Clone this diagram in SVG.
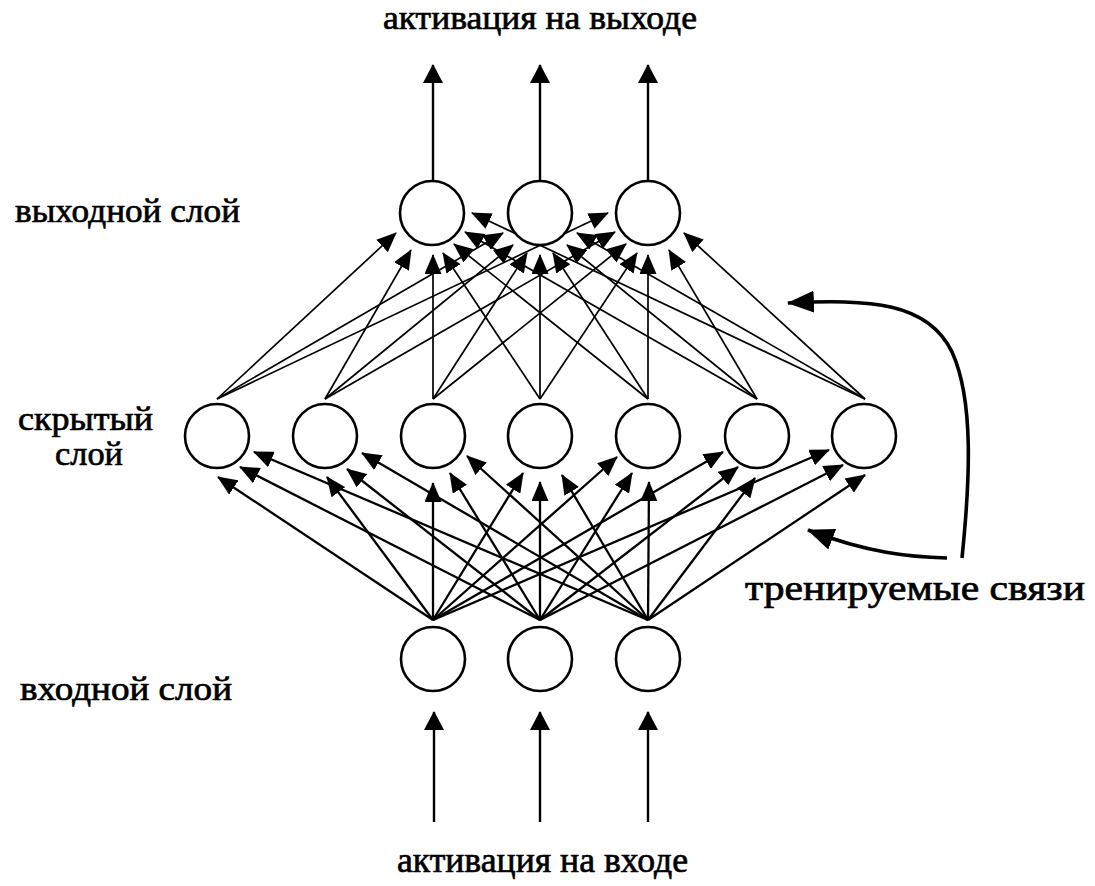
<svg xmlns="http://www.w3.org/2000/svg" width="1095" height="886" viewBox="0 0 1095 886">
<style>
.n{fill:#fff;stroke:#000;stroke-width:2.6}
.a{stroke:#000;stroke-width:2.3;fill:none}
.b{stroke:#000;stroke-width:1.7;fill:none}
.io{stroke:#000;stroke-width:2.4;fill:none}
.cv{stroke:#000;stroke-width:3.6;fill:none}
.t{font-family:"Liberation Serif","Times New Roman",serif;fill:#000;stroke:#000;stroke-width:0.7}
</style>
<defs>
<marker id="ah" viewBox="0 0 20 17" refX="19" refY="8.5" markerWidth="20" markerHeight="17" markerUnits="userSpaceOnUse" orient="auto"><path d="M0,0 L20,8.5 L0,17 z" fill="#000"/></marker>
<marker id="big" viewBox="0 0 19 20" refX="18" refY="10" markerWidth="19" markerHeight="20" markerUnits="userSpaceOnUse" orient="auto"><path d="M0,0 L19,10 L0,20 z" fill="#000"/></marker>
<marker id="cva" viewBox="0 0 27 22" refX="26" refY="11" markerWidth="27" markerHeight="22" markerUnits="userSpaceOnUse" orient="auto"><path d="M0,0 L27,11 L0,22 z" fill="#000"/></marker>
</defs>
<rect width="1095" height="886" fill="#fff"/>
<g id="connectors">
<g marker-end="url(#big)" class="io">
<line x1="434" y1="822" x2="434" y2="712"/>
<line x1="540" y1="822" x2="540" y2="712"/>
<line x1="648" y1="822" x2="648" y2="712"/>
<line x1="433" y1="180" x2="433" y2="65"/>
<line x1="540" y1="180" x2="540" y2="65"/>
<line x1="648" y1="180" x2="648" y2="65"/>
</g>
<g marker-end="url(#ah)" class="a">
<line x1="433" y1="620" x2="218" y2="477"/>
<line x1="540" y1="620" x2="240" y2="467"/>
<line x1="648" y1="620" x2="254" y2="452"/>
<line x1="433" y1="620" x2="327" y2="477"/>
<line x1="540" y1="620" x2="347" y2="469"/>
<line x1="648" y1="620" x2="362" y2="453"/>
<line x1="433" y1="620" x2="433" y2="483"/>
<line x1="540" y1="620" x2="450" y2="473"/>
<line x1="648" y1="620" x2="467" y2="456"/>
<line x1="433" y1="620" x2="523" y2="473"/>
<line x1="540" y1="620" x2="540" y2="482"/>
<line x1="648" y1="620" x2="562" y2="475"/>
<line x1="433" y1="620" x2="617" y2="457"/>
<line x1="540" y1="620" x2="632" y2="473"/>
<line x1="648" y1="620" x2="649" y2="482"/>
<line x1="433" y1="620" x2="723" y2="452"/>
<line x1="540" y1="620" x2="738" y2="467"/>
<line x1="648" y1="620" x2="755" y2="478"/>
<line x1="433" y1="620" x2="829" y2="450"/>
<line x1="540" y1="620" x2="843" y2="465"/>
<line x1="648" y1="620" x2="865" y2="475"/>
</g>
<g marker-end="url(#ah)" class="b">
<line x1="217" y1="399" x2="396" y2="233"/>
<line x1="325" y1="399" x2="411" y2="250"/>
<line x1="433" y1="399" x2="433" y2="255"/>
<line x1="540" y1="399" x2="443" y2="253"/>
<line x1="648" y1="399" x2="454" y2="244"/>
<line x1="757" y1="399" x2="465" y2="232"/>
<line x1="865" y1="399" x2="472" y2="213"/>
<line x1="217" y1="399" x2="503" y2="233"/>
<line x1="325" y1="399" x2="513" y2="245"/>
<line x1="433" y1="399" x2="527" y2="253"/>
<line x1="540" y1="399" x2="540" y2="255"/>
<line x1="648" y1="399" x2="553" y2="253"/>
<line x1="757" y1="399" x2="567" y2="245"/>
<line x1="865" y1="399" x2="577" y2="233"/>
<line x1="217" y1="399" x2="608" y2="213"/>
<line x1="325" y1="399" x2="615" y2="232"/>
<line x1="433" y1="399" x2="626" y2="244"/>
<line x1="540" y1="399" x2="637" y2="253"/>
<line x1="648" y1="399" x2="648" y2="255"/>
<line x1="757" y1="399" x2="669" y2="250"/>
<line x1="865" y1="399" x2="684" y2="233"/>
</g>
<path class="cv" marker-end="url(#cva)" d="M962,558 C970,480 974,400 952,352 C928,302 870,299 788,303"/>
<path class="cv" marker-end="url(#cva)" d="M947,558 C910,557 868,553 808,530"/>
</g>
<g id="out1"><circle class="n" cx="432" cy="213" r="32"/></g>
<g id="out2"><circle class="n" cx="540" cy="213" r="32"/></g>
<g id="out3"><circle class="n" cx="648" cy="213" r="32"/></g>
<g id="hid1"><circle class="n" cx="217" cy="436" r="32"/></g>
<g id="hid2"><circle class="n" cx="325" cy="436" r="32"/></g>
<g id="hid3"><circle class="n" cx="433" cy="436" r="32"/></g>
<g id="hid4"><circle class="n" cx="540" cy="436" r="32"/></g>
<g id="hid5"><circle class="n" cx="648" cy="436" r="32"/></g>
<g id="hid6"><circle class="n" cx="757" cy="436" r="32"/></g>
<g id="hid7"><circle class="n" cx="864" cy="436" r="32"/></g>
<g id="in1"><circle class="n" cx="433" cy="659" r="32"/></g>
<g id="in2"><circle class="n" cx="540" cy="659" r="32"/></g>
<g id="in3"><circle class="n" cx="648" cy="659" r="32"/></g>
<g id="labels">
<text class="t" x="383" y="29" font-size="34" textLength="314" lengthAdjust="spacingAndGlyphs">активация на выходе</text>
<text class="t" x="397" y="872" font-size="36" textLength="291" lengthAdjust="spacingAndGlyphs">активация на входе</text>
<text class="t" x="15" y="222" font-size="34" textLength="225" lengthAdjust="spacingAndGlyphs">выходной слой</text>
<text class="t" x="18" y="430" font-size="34" textLength="135" lengthAdjust="spacingAndGlyphs">скрытый</text>
<text class="t" x="55" y="465" font-size="34" textLength="68" lengthAdjust="spacingAndGlyphs">слой</text>
<text class="t" x="20" y="700" font-size="34" textLength="212" lengthAdjust="spacingAndGlyphs">входной слой</text>
<text class="t" x="745" y="600" font-size="35" textLength="340" lengthAdjust="spacingAndGlyphs">тренируемые связи</text>
</g>
</svg>
